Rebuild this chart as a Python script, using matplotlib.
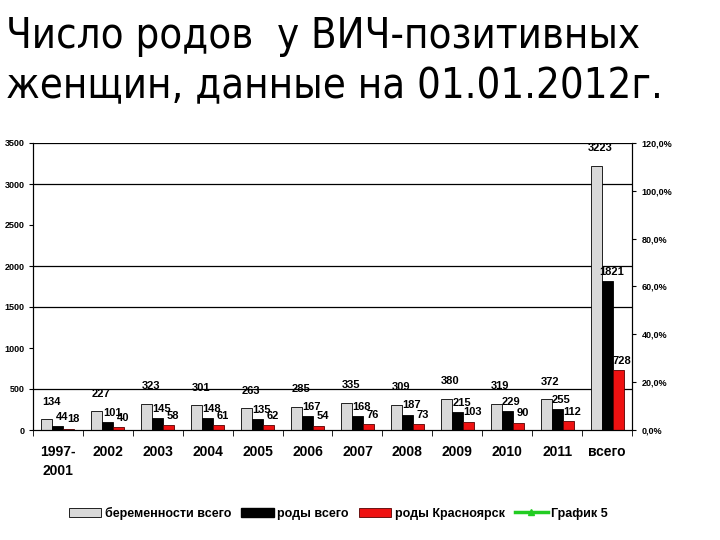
import numpy as np
import matplotlib
matplotlib.use("Agg")
import matplotlib.pyplot as plt
from matplotlib.patches import Patch
from matplotlib.lines import Line2D

# data
categories = ["1997-\n2001", "2002", "2003", "2004", "2005", "2006",
              "2007", "2008", "2009", "2010", "2011", "всего"]
pregnancies = [134, 227, 323, 301, 263, 285, 335, 309, 380, 319, 372, 3223]
births = [44, 101, 145, 148, 135, 167, 168, 187, 215, 229, 255, 1821]
births_krsk = [18, 40, 58, 61, 62, 54, 76, 73, 103, 90, 112, 728]
series_names = ["беременности всего", "роды всего", "роды Красноярск", "График 5"]
left_ticks = [0, 500, 1000, 1500, 2000, 2500, 3000, 3500]
grid_levels = [500, 1500, 2000, 3000, 3500]
right_ticks = [0, 20, 40, 60, 80, 100, 120]

fig = plt.figure(figsize=(7.2, 5.4), dpi=100)
fig.text(0.008, 0.972, "Число родов  у ВИЧ-позитивных\nженщин, данные на 01.01.2012г.",
         fontsize=30, va="top", ha="left", family="DejaVu Sans",
         fontstretch="condensed", linespacing=1.25)

ax = fig.add_axes([33 / 720, 1 - 430 / 540, (632 - 33) / 720, (430 - 143) / 540])
x = np.arange(len(categories))
w = 0.22
bars1 = ax.bar(x - w, pregnancies, w, color="#d9d9d9", edgecolor="black", linewidth=0.6)
bars2 = ax.bar(x, births, w, color="black", edgecolor="black", linewidth=0.6)
bars3 = ax.bar(x + w, births_krsk, w, color="#ee1111", edgecolor="#550000", linewidth=0.6)

for bars, vals, dy in [(bars1, pregnancies, 9), (bars2, births, 3), (bars3, births_krsk, 3)]:
    for b, v in zip(bars, vals):
        ax.annotate(str(v), (b.get_x() + b.get_width() / 2, v), xytext=(3, dy),
                    textcoords="offset points", ha="center", va="bottom",
                    fontsize=8, fontweight="bold", family="Liberation Sans")

for g in grid_levels:
    ax.axhline(g, color="black", linewidth=0.9, zorder=0)

ax.set_xlim(-0.5, len(categories) - 0.5)
ax.set_ylim(0, 3500)
ax.set_yticks(left_ticks)
ax.set_yticklabels([str(t) for t in left_ticks], fontsize=6.5, fontweight="bold",
                   family="Liberation Sans")
ax.set_xticks(x)
ax.set_xticklabels(categories, fontsize=10, fontweight="bold", family="Liberation Sans",
                   va="top", linespacing=1.4)
ax.tick_params(axis="x", length=0, pad=11)
ax.set_xticks(np.arange(len(categories) + 1) - 0.5, minor=True)
ax.tick_params(axis="x", which="minor", length=4, direction="out")
ax.tick_params(axis="y", length=3, pad=3)
ax.spines["top"].set_visible(False)

ax2 = ax.twinx()
ax2.set_ylim(0, 120)
ax2.set_yticks(right_ticks)
ax2.set_yticklabels([f"{t:.1f}%".replace(".", ",") for t in right_ticks], fontsize=6.5,
                    fontweight="bold", family="Liberation Sans")
ax2.tick_params(axis="y", length=3, pad=4)
ax2.spines["top"].set_visible(False)

handles = [Patch(facecolor="#d9d9d9", edgecolor="black", linewidth=0.6),
           Patch(facecolor="black", edgecolor="black"),
           Patch(facecolor="#ee1111", edgecolor="#550000", linewidth=0.6),
           Line2D([], [], color="#22cc22", linewidth=2.5, marker="^", markersize=5)]
fig.legend(handles, series_names, loc="center", bbox_to_anchor=(0.47, 1 - 513 / 540),
           ncol=4, frameon=False, handlelength=2.6, handleheight=0.7, columnspacing=0.8,
           handletextpad=0.3, prop={"family": "Liberation Sans", "weight": "bold", "size": 9})

fig.savefig("out.png", dpi=100)
